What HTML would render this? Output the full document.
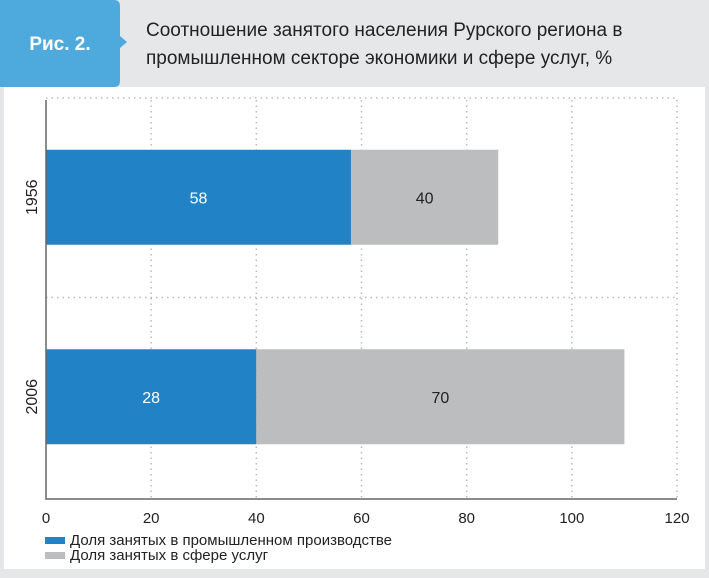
<!DOCTYPE html>
<html><head><meta charset="utf-8"><style>
body{margin:0;width:709px;height:573px;overflow:hidden;background:#e6e7e8;font-family:"Liberation Sans",sans-serif}
</style></head><body>
<svg width="709" height="573" xmlns="http://www.w3.org/2000/svg">
<rect x="4" y="87" width="701" height="482" fill="#fff"/>
<rect x="0" y="0" width="709" height="87" fill="#e6e7e8"/>
<path d="M0 0H114Q120 0 120 6V36L127 42L120 48V81Q120 87 114 87H0Z" fill="#4ea9dd"/>
<text x="60" y="50" text-anchor="middle" fill="#fff" font-size="19" font-weight="bold">Рис. 2.</text>
<text x="146" y="36" fill="#222" font-size="19">Соотношение занятого населения Рурского региона в</text>
<text x="146" y="64" fill="#222" font-size="19">промышленном секторе экономики и сфере услуг, %</text>
<g id="plot"></g>
</svg>
<script>
const categories=["1956","2006"];
const industryValues=[58,40];
const serviceValues=[28,70];
const industryLabels=["58","28"];
const serviceLabels=["40","70"];
const xTicks=[0,20,40,60,80,100,120];
const ns="http://www.w3.org/2000/svg";
const g=document.getElementById('plot');
const x0=46,x1=677,yTop=100,yBot=499,xMax=120;
const xs=v=>x0+v/xMax*(x1-x0);
const bandH=(yBot-yTop)/categories.length;
const ys=i=>yTop+i*bandH;
function mk(t,a){const e=document.createElementNS(ns,t);for(const k in a)e.setAttribute(k,a[k]);g.appendChild(e);return e;}
xTicks.forEach(t=>{
 if(t>0){const l=mk('line',{x1:xs(t),x2:xs(t),y1:yTop,y2:yBot,stroke:'#bbb','stroke-width':1.5,'stroke-dasharray':'1.5 4'});
 
 }
 const tx=mk('text',{x:xs(t),y:523,'text-anchor':'middle','font-size':15,fill:'#222'});tx.textContent=t;
 
 
});
categories.forEach((c,i)=>{
 const h=mk('line',{x1:x0,x2:x1,y1:ys(i)-2,y2:ys(i)-2,stroke:'#bbb','stroke-width':1.5,'stroke-dasharray':'1.5 4'});
 
 
 const cy=ys(i)+bandH/2-2.5, bh=95, by=cy-bh/2;
 const b1=mk('rect',{x:xs(0),y:by,width:xs(industryValues[i])-xs(0),height:bh,fill:'#2183c6'});
 
 
 const b2=mk('rect',{x:xs(industryValues[i]),y:by,width:xs(industryValues[i]+serviceValues[i])-xs(industryValues[i]),height:bh,fill:'#bcbdbf'});
 
 
 const t1=mk('text',{x:(xs(0)+xs(industryValues[i]))/2,y:cy+6,'text-anchor':'middle','font-size':16,fill:'#fff'});t1.textContent=industryLabels[i];
 
 
 const t2=mk('text',{x:(xs(industryValues[i])+xs(industryValues[i]+serviceValues[i]))/2,y:cy+6,'text-anchor':'middle','font-size':16,fill:'#222'});t2.textContent=serviceLabels[i];
 
 
 const cl=mk('text',{x:0,y:0,'text-anchor':'middle','font-size':16,fill:'#222',transform:`translate(37,${cy}) rotate(-90)`});cl.textContent=c;
 
 
});
const ax=mk('path',{d:`M${x0} ${yTop}V${yBot}H${x1}`,fill:'none',stroke:'#666','stroke-width':1.5});


[['#2183c6','Доля занятых в промышленном производстве',537],['#bcbdbf','Доля занятых в сфере услуг',552]].forEach((L,i)=>{
 const s=mk('rect',{x:45,y:L[2],width:20,height:7,fill:L[0]});
 
 
 const t=mk('text',{x:70,y:L[2]+8,'font-size':15,fill:'#222'});t.textContent=L[1];
 
 
});
</script>
</body></html>
